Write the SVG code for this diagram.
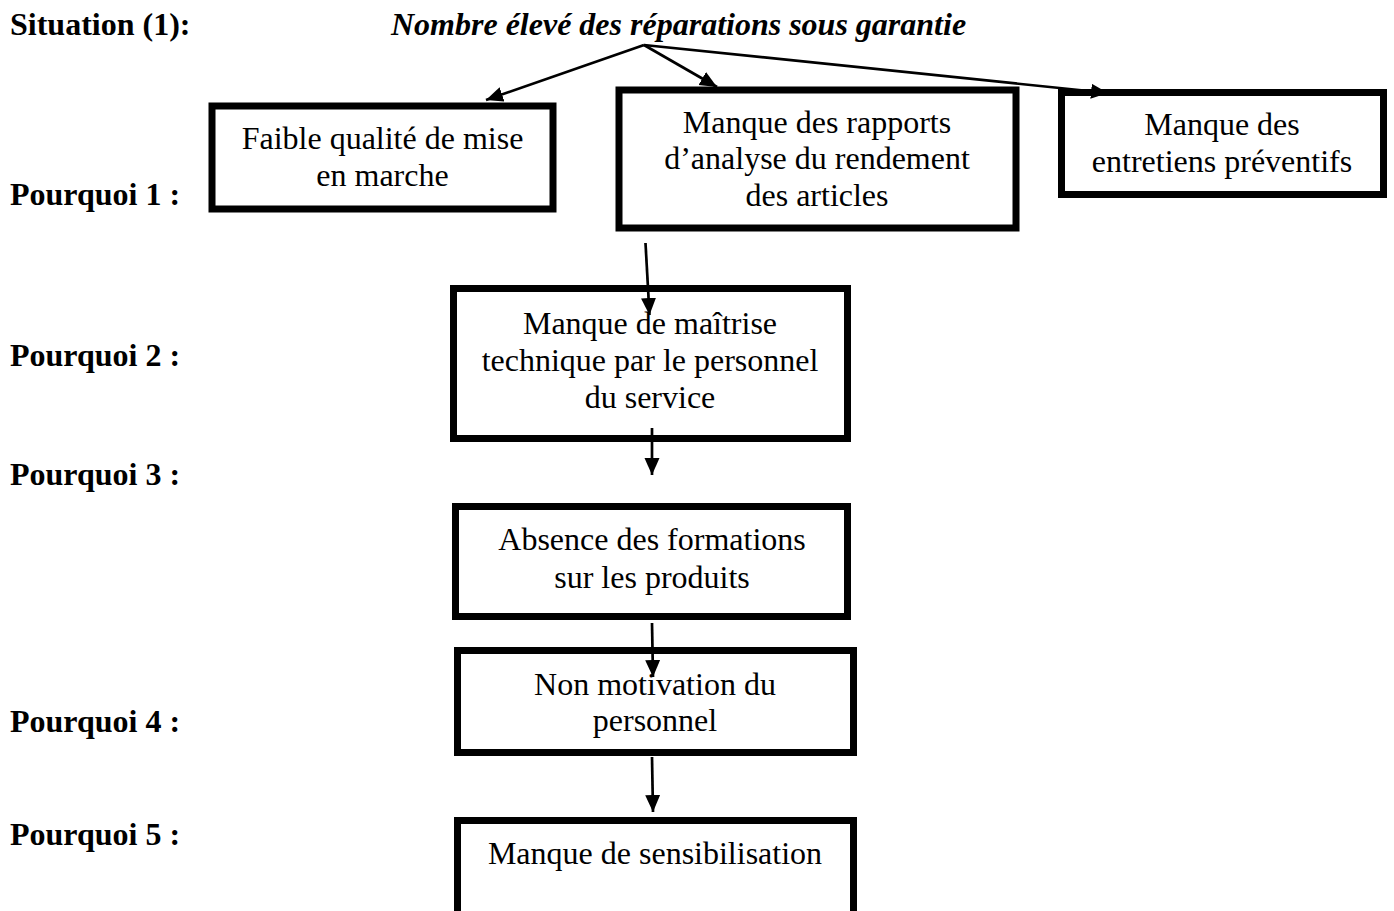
<svg xmlns="http://www.w3.org/2000/svg" width="1394" height="911" viewBox="0 0 1394 911">
  <style>
    .box { fill: #ffffff; stroke: #000000; stroke-width: 7; }
    .txt { font-family: "Liberation Serif", "Times New Roman", serif; font-size: 32px; fill: #000000; text-anchor: middle; }
    .lbl { font-family: "Liberation Serif", "Times New Roman", serif; font-size: 32px; font-weight: bold; fill: #000000; }
    .ttl { font-family: "Liberation Serif", "Times New Roman", serif; font-size: 32px; font-weight: bold; font-style: italic; fill: #000000; }
    .con { fill: none; stroke: #000000; stroke-width: 2.7; marker-end: url(#arrow); }
  </style>
  <defs>
    <marker id="arrow" markerUnits="userSpaceOnUse" markerWidth="18" markerHeight="16" refX="17" refY="7.5" orient="auto">
      <path d="M0,0 L17,7.5 L0,15 Z" fill="#000000"/>
    </marker>
  </defs>
  <rect width="1394" height="911" fill="#ffffff"/>

  <!-- row labels -->
  <g id="labels">
    <text class="lbl" x="10" y="35">Situation (1):</text>
    <text class="ttl" x="391" y="35">Nombre élevé des réparations sous garantie</text>
    <text class="lbl" x="10" y="205">Pourquoi 1 :</text>
    <text class="lbl" x="10" y="366">Pourquoi 2 :</text>
    <text class="lbl" x="10" y="485">Pourquoi 3 :</text>
    <text class="lbl" x="10" y="732">Pourquoi 4 :</text>
    <text class="lbl" x="10" y="845">Pourquoi 5 :</text>
  </g>

  <g id="node-faible">
    <rect class="box" x="212" y="106" width="341" height="103"/>
    <text class="txt" x="382.5" y="149">Faible qualité de mise</text>
    <text class="txt" x="382.5" y="186">en marche</text>
  </g>

  <g id="node-rapports">
    <rect class="box" x="619" y="90" width="397" height="138"/>
    <text class="txt" x="817" y="133">Manque des rapports</text>
    <text class="txt" x="817" y="169">d’analyse du rendement</text>
    <text class="txt" x="817" y="206">des articles</text>
  </g>

  <g id="node-entretiens">
    <rect class="box" x="1061.5" y="92.5" width="322" height="102"/>
    <text class="txt" x="1222" y="135">Manque des</text>
    <text class="txt" x="1222" y="172">entretiens préventifs</text>
  </g>

  <g id="node-maitrise">
    <rect class="box" x="453.5" y="288.5" width="394" height="150"/>
    <text class="txt" x="650" y="334">Manque de maîtrise</text>
    <text class="txt" x="650" y="371">technique par le personnel</text>
    <text class="txt" x="650" y="408">du service</text>
  </g>

  <g id="node-formations">
    <rect class="box" x="455.5" y="506.5" width="392" height="110"/>
    <text class="txt" x="652" y="550">Absence des formations</text>
    <text class="txt" x="652" y="588">sur les produits</text>
  </g>

  <g id="node-motivation">
    <rect class="box" x="457.5" y="650.5" width="396" height="102"/>
    <text class="txt" x="655" y="695">Non motivation du</text>
    <text class="txt" x="655" y="731">personnel</text>
  </g>

  <g id="node-sensibilisation">
    <rect class="box" x="457.5" y="820.5" width="396" height="110"/>
    <text class="txt" x="655" y="864">Manque de sensibilisation</text>
  </g>

  <g id="connectors">
    <line class="con" x1="644" y1="45" x2="486" y2="100"/>
    <line class="con" x1="644" y1="45" x2="717" y2="87"/>
    <line class="con" x1="644" y1="45" x2="1108" y2="93"/>
    <line class="con" x1="645.5" y1="243" x2="649.5" y2="315"/>
    <line class="con" x1="652" y1="428" x2="652" y2="475"/>
    <line class="con" x1="652" y1="623" x2="653" y2="677"/>
    <line class="con" x1="652" y1="757" x2="653" y2="812"/>
  </g>
</svg>
